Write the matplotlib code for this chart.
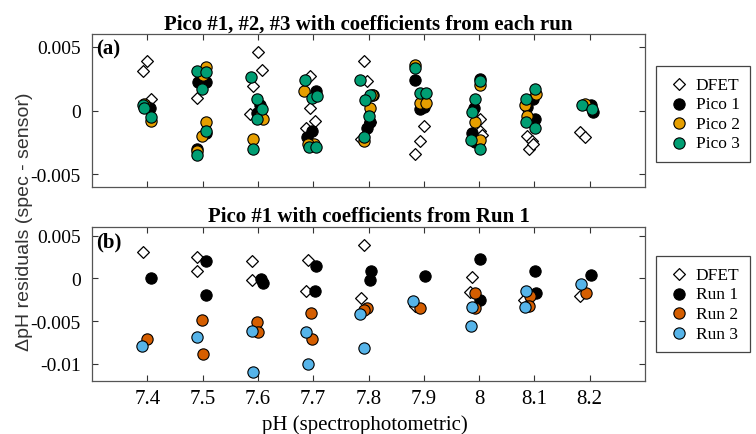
import matplotlib
matplotlib.use("Agg")
import matplotlib.pyplot as plt

# panel (a): Pico #1, #2, #3 with coefficients from each run
a_dfet_x = [7.399, 7.392, 7.406, 7.489, 7.601, 7.607, 7.591, 7.586,
            7.694, 7.694, 7.703, 7.687, 7.791, 7.798, 7.802, 7.786,
            7.900, 7.893, 7.884, 8.002, 8.001, 8.005,
            8.086, 8.095, 8.091, 8.098, 8.183, 8.192]
a_dfet_y = [0.0039, 0.0031, 0.0009, 0.0010, 0.0046, 0.0032, 0.0019, -0.0003,
            0.0027, 0.0002, -0.0008, -0.0014, 0.0039, 0.0023, -0.0009, -0.0022,
            -0.0012, -0.0024, -0.0034, -0.0007, -0.0016, -0.0019,
            -0.0020, -0.0024, -0.0030, -0.0026, -0.0017, -0.0021]

a_p1_x = [7.405, 7.395, 7.492, 7.507, 7.507, 7.489, 7.604, 7.598,
          7.705, 7.697, 7.688, 7.808, 7.803, 7.797, 7.884, 7.893, 7.900,
          8.002, 7.990, 7.987, 7.993, 8.098, 8.086, 8.101, 8.202, 8.206]
a_p1_y = [0.0002, 0.0004, 0.0022, 0.0022, -0.0018, -0.0030, 0.0004, -0.0002,
          0.0015, -0.0016, -0.0021, 0.0012, -0.0009, -0.0014, 0.0024, 0.0001, 0.0003,
          0.0025, 0.0002, -0.0018, -0.0025, 0.0009, 0.0003, -0.0007, 0.0004, -0.0001]

a_p2_x = [7.394, 7.407, 7.506, 7.501, 7.506, 7.498, 7.489, 7.604, 7.610, 7.591,
          7.684, 7.702, 7.691, 7.806, 7.802, 7.792, 7.884, 7.894, 7.904,
          8.001, 7.993, 8.002, 8.103, 8.083, 8.086, 8.192]
a_p2_y = [0.0005, -0.0008, 0.0034, 0.0028, -0.0009, -0.0020, -0.0032, -0.0004, -0.0007, -0.0022,
          0.0015, -0.0026, -0.0026, 0.0012, 0.0002, -0.0024, 0.0036, 0.0006, 0.0006,
          0.0020, -0.0009, -0.0023, 0.0013, 0.0004, -0.0004, 0.0005]

a_p3_x = [7.392, 7.394, 7.407, 7.489, 7.507, 7.498, 7.507, 7.489,
          7.588, 7.598, 7.607, 7.598, 7.591, 7.685, 7.697, 7.706, 7.693, 7.705,
          7.785, 7.802, 7.794, 7.800, 7.792, 7.884, 7.894, 7.904,
          8.001, 7.993, 7.988, 7.985, 8.001, 8.101, 8.085, 8.085, 8.101, 8.186, 8.204]
a_p3_y = [0.0004, 0.0002, -0.0005, 0.0031, 0.0030, 0.0017, -0.0016, -0.0035,
          0.0026, 0.0009, 0.0001, -0.0007, -0.0030, 0.0024, 0.0010, 0.0011, -0.0029, -0.0029,
          0.0024, 0.0012, 0.0008, -0.0004, -0.0021, 0.0033, 0.0014, 0.0014,
          0.0023, 0.0009, -0.0001, -0.0023, -0.0030, 0.0017, 0.0009, -0.0009, -0.0014, 0.0004, 0.0001]

# panel (b): Pico #1 with coefficients from Run 1
b_dfet_x = [7.392, 7.490, 7.489, 7.590, 7.589, 7.691, 7.687, 7.791, 7.786,
            7.884, 7.987, 7.984, 8.081, 8.089, 8.183]
b_dfet_y = [0.0031, 0.0025, 0.0009, 0.0020, -0.0002, 0.0022, -0.0015, 0.0039, -0.0023,
            -0.0032, 0.0002, -0.0016, -0.0025, -0.0030, -0.0021]

b_r1_x = [7.406, 7.507, 7.506, 7.605, 7.609, 7.705, 7.703, 7.804, 7.803,
          7.902, 8.002, 8.001, 8.101, 8.103, 8.202]
b_r1_y = [0.0000, 0.0020, -0.0020, -0.0001, -0.0005, 0.0014, -0.0015, 0.0009, -0.0002,
          0.0003, 0.0023, -0.0025, 0.0009, -0.0017, 0.0004]

b_r2_x = [7.400, 7.498, 7.500, 7.598, 7.601, 7.696, 7.698, 7.797, 7.792,
          7.893, 7.993, 7.993, 8.092, 8.091, 8.193]
b_r2_y = [-0.0071, -0.0049, -0.0089, -0.0051, -0.0063, -0.0040, -0.0071, -0.0035, -0.0037,
          -0.0035, -0.0017, -0.0035, -0.0021, -0.0032, -0.0017]

b_r3_x = [7.391, 7.489, 7.589, 7.591, 7.687, 7.691, 7.785, 7.792,
          7.881, 7.987, 7.985, 8.085, 8.083, 8.184]
b_r3_y = [-0.0079, -0.0069, -0.0062, -0.0110, -0.0063, -0.0100, -0.0042, -0.0081,
          -0.0027, -0.0033, -0.0056, -0.0015, -0.0034, -0.0007]

xticks = [7.4, 7.5, 7.6, 7.7, 7.8, 7.9, 8.0, 8.1, 8.2]
xticklabels = ['7.4', '7.5', '7.6', '7.7', '7.8', '7.9', '8', '8.1', '8.2']
a_yticks = [-0.005, 0, 0.005]
a_yticklabels = ['-0.005', '0', '0.005']
b_yticks = [-0.01, -0.005, 0, 0.005]
b_yticklabels = ['-0.01', '-0.005', '0', '0.005']

plt.rcParams['font.family'] = ['Liberation Serif', 'DejaVu Serif']

fig = plt.figure(figsize=(7.56, 4.35), dpi=100)
ax1 = fig.add_axes([0.1217, 0.5678, 0.7315, 0.3517])
ax2 = fig.add_axes([0.1217, 0.1218, 0.7315, 0.3541])

circ = dict(marker='o', s=66, edgecolors='black', linewidths=0.8, zorder=3)
diam = dict(marker='D', s=36, facecolors='white', edgecolors='black', linewidths=0.9, zorder=3)

ax1.scatter(a_dfet_x, a_dfet_y, label='DFET', **diam)
ax1.scatter(a_p1_x, a_p1_y, c='black', label='Pico 1', **circ)
ax1.scatter(a_p2_x, a_p2_y, c='#E69F00', label='Pico 2', **circ)
ax1.scatter(a_p3_x, a_p3_y, c='#009E73', label='Pico 3', **circ)

ax2.scatter(b_dfet_x, b_dfet_y, label='DFET', **diam)
ax2.scatter(b_r1_x, b_r1_y, c='black', label='Run 1', **circ)
ax2.scatter(b_r2_x, b_r2_y, c='#D55E00', label='Run 2', **circ)
ax2.scatter(b_r3_x, b_r3_y, c='#56B4E9', label='Run 3', **circ)

ax1.set_ylim(-0.006, 0.006)
ax2.set_ylim(-0.012, 0.006)
ax1.set_yticks(a_yticks)
ax1.set_yticklabels(a_yticklabels)
ax2.set_yticks(b_yticks)
ax2.set_yticklabels(b_yticklabels)

for ax in (ax1, ax2):
    ax.set_xlim(7.3, 8.3)
    ax.set_xticks(xticks)
    ax.tick_params(direction='in', top=True, right=True, length=4, width=0.8,
                   pad=6, color='#333333')
    ax.tick_params(axis='x', labelsize=15)
    ax.tick_params(axis='y', labelsize=14, pad=8)
    for sp in ax.spines.values():
        sp.set_color('#555555')
        sp.set_linewidth(0.9)
ax1.set_xticklabels([])
ax2.set_xticklabels(xticklabels)

ax1.set_title('Pico #1, #2, #3 with coefficients from each run', fontsize=15,
              fontweight='bold', pad=4)
ax2.set_title('Pico #1 with coefficients from Run 1', fontsize=15,
              fontweight='bold', pad=4)
ax1.text(0.008, 0.97, '(a)', transform=ax1.transAxes, fontsize=15,
         fontweight='bold', va='top')
ax2.text(0.008, 0.97, '(b)', transform=ax2.transAxes, fontsize=15,
         fontweight='bold', va='top')

fig.text(0.032, 0.49, '\u0394pH residuals (spec - sensor)', rotation=90,
         ha='center', va='center', fontsize=14, color='#333333',
         family=['Liberation Sans', 'DejaVu Sans'])
fig.text(0.483, 0.045, 'pH (spectrophotometric)', ha='center', va='top', fontsize=15)

leg_kw = dict(loc='upper left', frameon=True, fancybox=False, framealpha=1,
              edgecolor='#444444', fontsize=12.5, borderpad=0.6, labelspacing=0.2,
              handlelength=1.5, handletextpad=0.2, borderaxespad=0)
l1 = ax1.legend(bbox_to_anchor=(0.8677, 0.846), bbox_transform=fig.transFigure, **leg_kw)
l2 = ax2.legend(bbox_to_anchor=(0.8677, 0.409), bbox_transform=fig.transFigure, **leg_kw)
for l in (l1, l2):
    l.get_frame().set_linewidth(0.9)

fig.savefig('out.png', dpi=100)
